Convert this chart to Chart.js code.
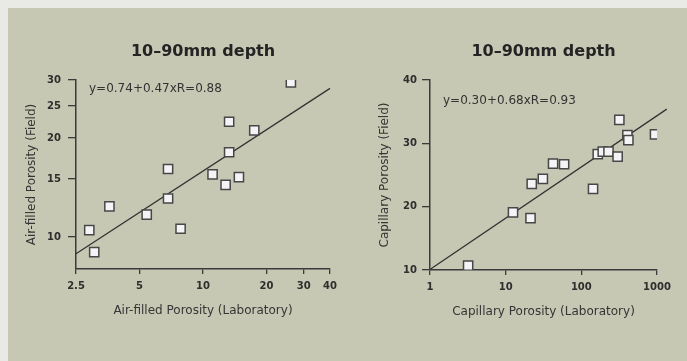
<!DOCTYPE html>
<html><head><meta charset="utf-8">
<script src="https://cdn.jsdelivr.net/npm/chart.js@4"></script>
<style>
html,body{margin:0;padding:0;background:#e9e9e6;width:687px;height:361px;overflow:hidden}
#panel{position:absolute;left:8px;top:8px;width:679px;height:353px;background:#c7c8b3}
canvas{position:absolute;top:0}
#c1{left:0}
#c2{left:343px}
</style></head><body>
<div id="panel"></div>
<canvas id="c1" width="343" height="361"></canvas>
<canvas id="c2" width="344" height="361"></canvas>
<script>
// ---- data ----
const titleText = "10–90mm depth";

const airLab   = [2.89, 3.05, 3.6, 5.41, 6.83, 7.83, 6.83, 11.1, 12.8, 14.8, 13.3, 17.5, 13.3, 26.1];
const airField = [10.5, 9.0, 12.4, 11.7, 13.1, 10.6, 16.1, 15.5, 14.4, 15.2, 18.1, 21.1, 22.4, 29.5];
const airFitX  = [2.5, 40];
const airFitY  = [8.9, 28.3];
const airLabTicks   = [2.5, 5, 10, 20, 30, 40];
const airFieldTicks = [10, 15, 20, 25, 30];
const airXTitle = "Air-filled Porosity (Laboratory)";
const airYTitle = "Air-filled Porosity (Field)";
const airEq = "y=0.74+0.47xR=0.88";

const capLab   = [3.19, 12.5, 21.3, 22.1, 31.0, 42.3, 59.2, 142.8, 164.8, 192, 228.5, 301.8, 317.9, 406, 418.6, 941];
const capField = [10.7, 19.1, 18.2, 23.6, 24.4, 26.8, 26.7, 22.8, 28.3, 28.7, 28.7, 27.9, 33.7, 31.3, 30.5, 31.4];
const capFitX  = [1.02, 1346];
const capFitY  = [10.16, 35.4];
const capLabTicks   = [1, 10, 100, 1000];
const capFieldTicks = [10, 20, 30, 40];
const capXTitle = "Capillary Porosity (Laboratory)";
const capYTitle = "Capillary Porosity (Field)";
const capEq = "y=0.30+0.68xR=0.93";

// ---- styling ----
const INK = '#2e2e2e';
const AXIS = '#3a3a3a';
const FONT = 'DejaVu Sans';

const eqPlugin = {
  id: 'eqLabel',
  afterDatasetsDraw(chart, args, opts) {
    const {ctx, chartArea} = chart;
    ctx.save();
    ctx.font = '12px "' + FONT + '"';
    ctx.fillStyle = '#333';
    ctx.textBaseline = 'middle';
    ctx.textAlign = 'left';
    ctx.fillText(opts.text, chartArea.left + opts.dx, chartArea.top + opts.dy);
    ctx.restore();
  }
};

function zip(xs, ys) { return xs.map((x, i) => ({x: x, y: ys[i]})); }

function axis(o) {
  const s = {
    type: o.type,
    position: o.position,
    min: o.min, max: o.max,
    afterFit: o.afterFit,
    ticks: {
      callback: v => String(v),
      color: INK,
      font: {family: FONT, size: 10, weight: 'bold'},
      padding: o.tickPad,
      maxRotation: 0, autoSkip: false
    },
    grid: {display: true, drawOnChartArea: false, drawTicks: true, tickLength: o.tickLen, color: AXIS, lineWidth: 1.3},
    border: {display: true, color: AXIS, width: 1.5},
    title: {display: true, text: o.title, color: '#353535', font: {family: FONT, size: 12}, padding: o.titlePad}
  };
  if (o.tickList) s.afterBuildTicks = sc => { sc.ticks = o.tickList.map(v => ({value: v})); };
  else s.ticks.stepSize = o.step;
  return s;
}

function makeChart(id, c) {
  return new Chart(document.getElementById(id), {
    type: 'scatter',
    data: {datasets: [
      {data: zip(c.xs, c.ys), pointStyle: 'rect', pointRadius: 6.5, pointBackgroundColor: '#f4f4f7',
       pointBorderColor: '#474747', pointBorderWidth: 1.5, showLine: false, order: 1},
      {data: zip(c.fx, c.fy), showLine: true, pointRadius: 0, borderColor: '#333', borderWidth: 1.3,
       clip: false, order: 2}
    ]},
    options: {
      responsive: false, animation: false, devicePixelRatio: 1,
      layout: {padding: {left: 0, right: c.padRight, top: 0, bottom: c.padBottom}},
      plugins: {
        legend: {display: false}, tooltip: {enabled: false},
        title: {display: true, text: titleText, fullSize: false, color: '#242424',
                font: {family: FONT, size: 16, weight: 'bold'}, padding: {top: 42.4, bottom: 18.4}},
        eqLabel: {text: c.eq, dx: 13, dy: c.eqDy}
      },
      scales: {
        x: axis({type: 'logarithmic', position: 'bottom', min: c.xMin, max: c.xMax, tickList: c.xTicks,
                 tickPad: 6, tickLen: 5, title: c.xTitle, titlePad: {top: 0, bottom: 0},
                 afterFit: s => { s.height = 49; }}),
        y: axis({type: c.yType, position: 'left', min: c.yMin, max: c.yMax, tickList: c.yTicks, step: 10,
                 tickPad: c.yTickPad, tickLen: 8, title: c.yTitle, titlePad: {top: c.yTitlePad, bottom: 0},
                 afterFit: s => { s.width = c.yWidth; }})
      }
    },
    plugins: [eqPlugin]
  });
}

makeChart('c1', {
  xs: airLab, ys: airField, fx: airFitX, fy: airFitY,
  xMin: 2.5, xMax: 40, xTicks: airLabTicks,
  yType: 'logarithmic', yMin: 8, yMax: 30, yTicks: airFieldTicks,
  xTitle: airXTitle, yTitle: airYTitle, eq: airEq, eqDy: 9,
  padRight: 13, padBottom: 43, yWidth: 76, yTickPad: 7, yTitlePad: 24.8
});

makeChart('c2', {
  xs: capLab, ys: capField, fx: capFitX, fy: capFitY,
  xMin: 1, xMax: 1000, xTicks: capLabTicks,
  yType: 'linear', yMin: 10, yMax: 40, yTicks: capFieldTicks,
  xTitle: capXTitle, yTitle: capYTitle, eq: capEq, eqDy: 21,
  padRight: 30, padBottom: 42, yWidth: 87, yTickPad: 5, yTitlePad: 34.8
});
</script></body></html>
